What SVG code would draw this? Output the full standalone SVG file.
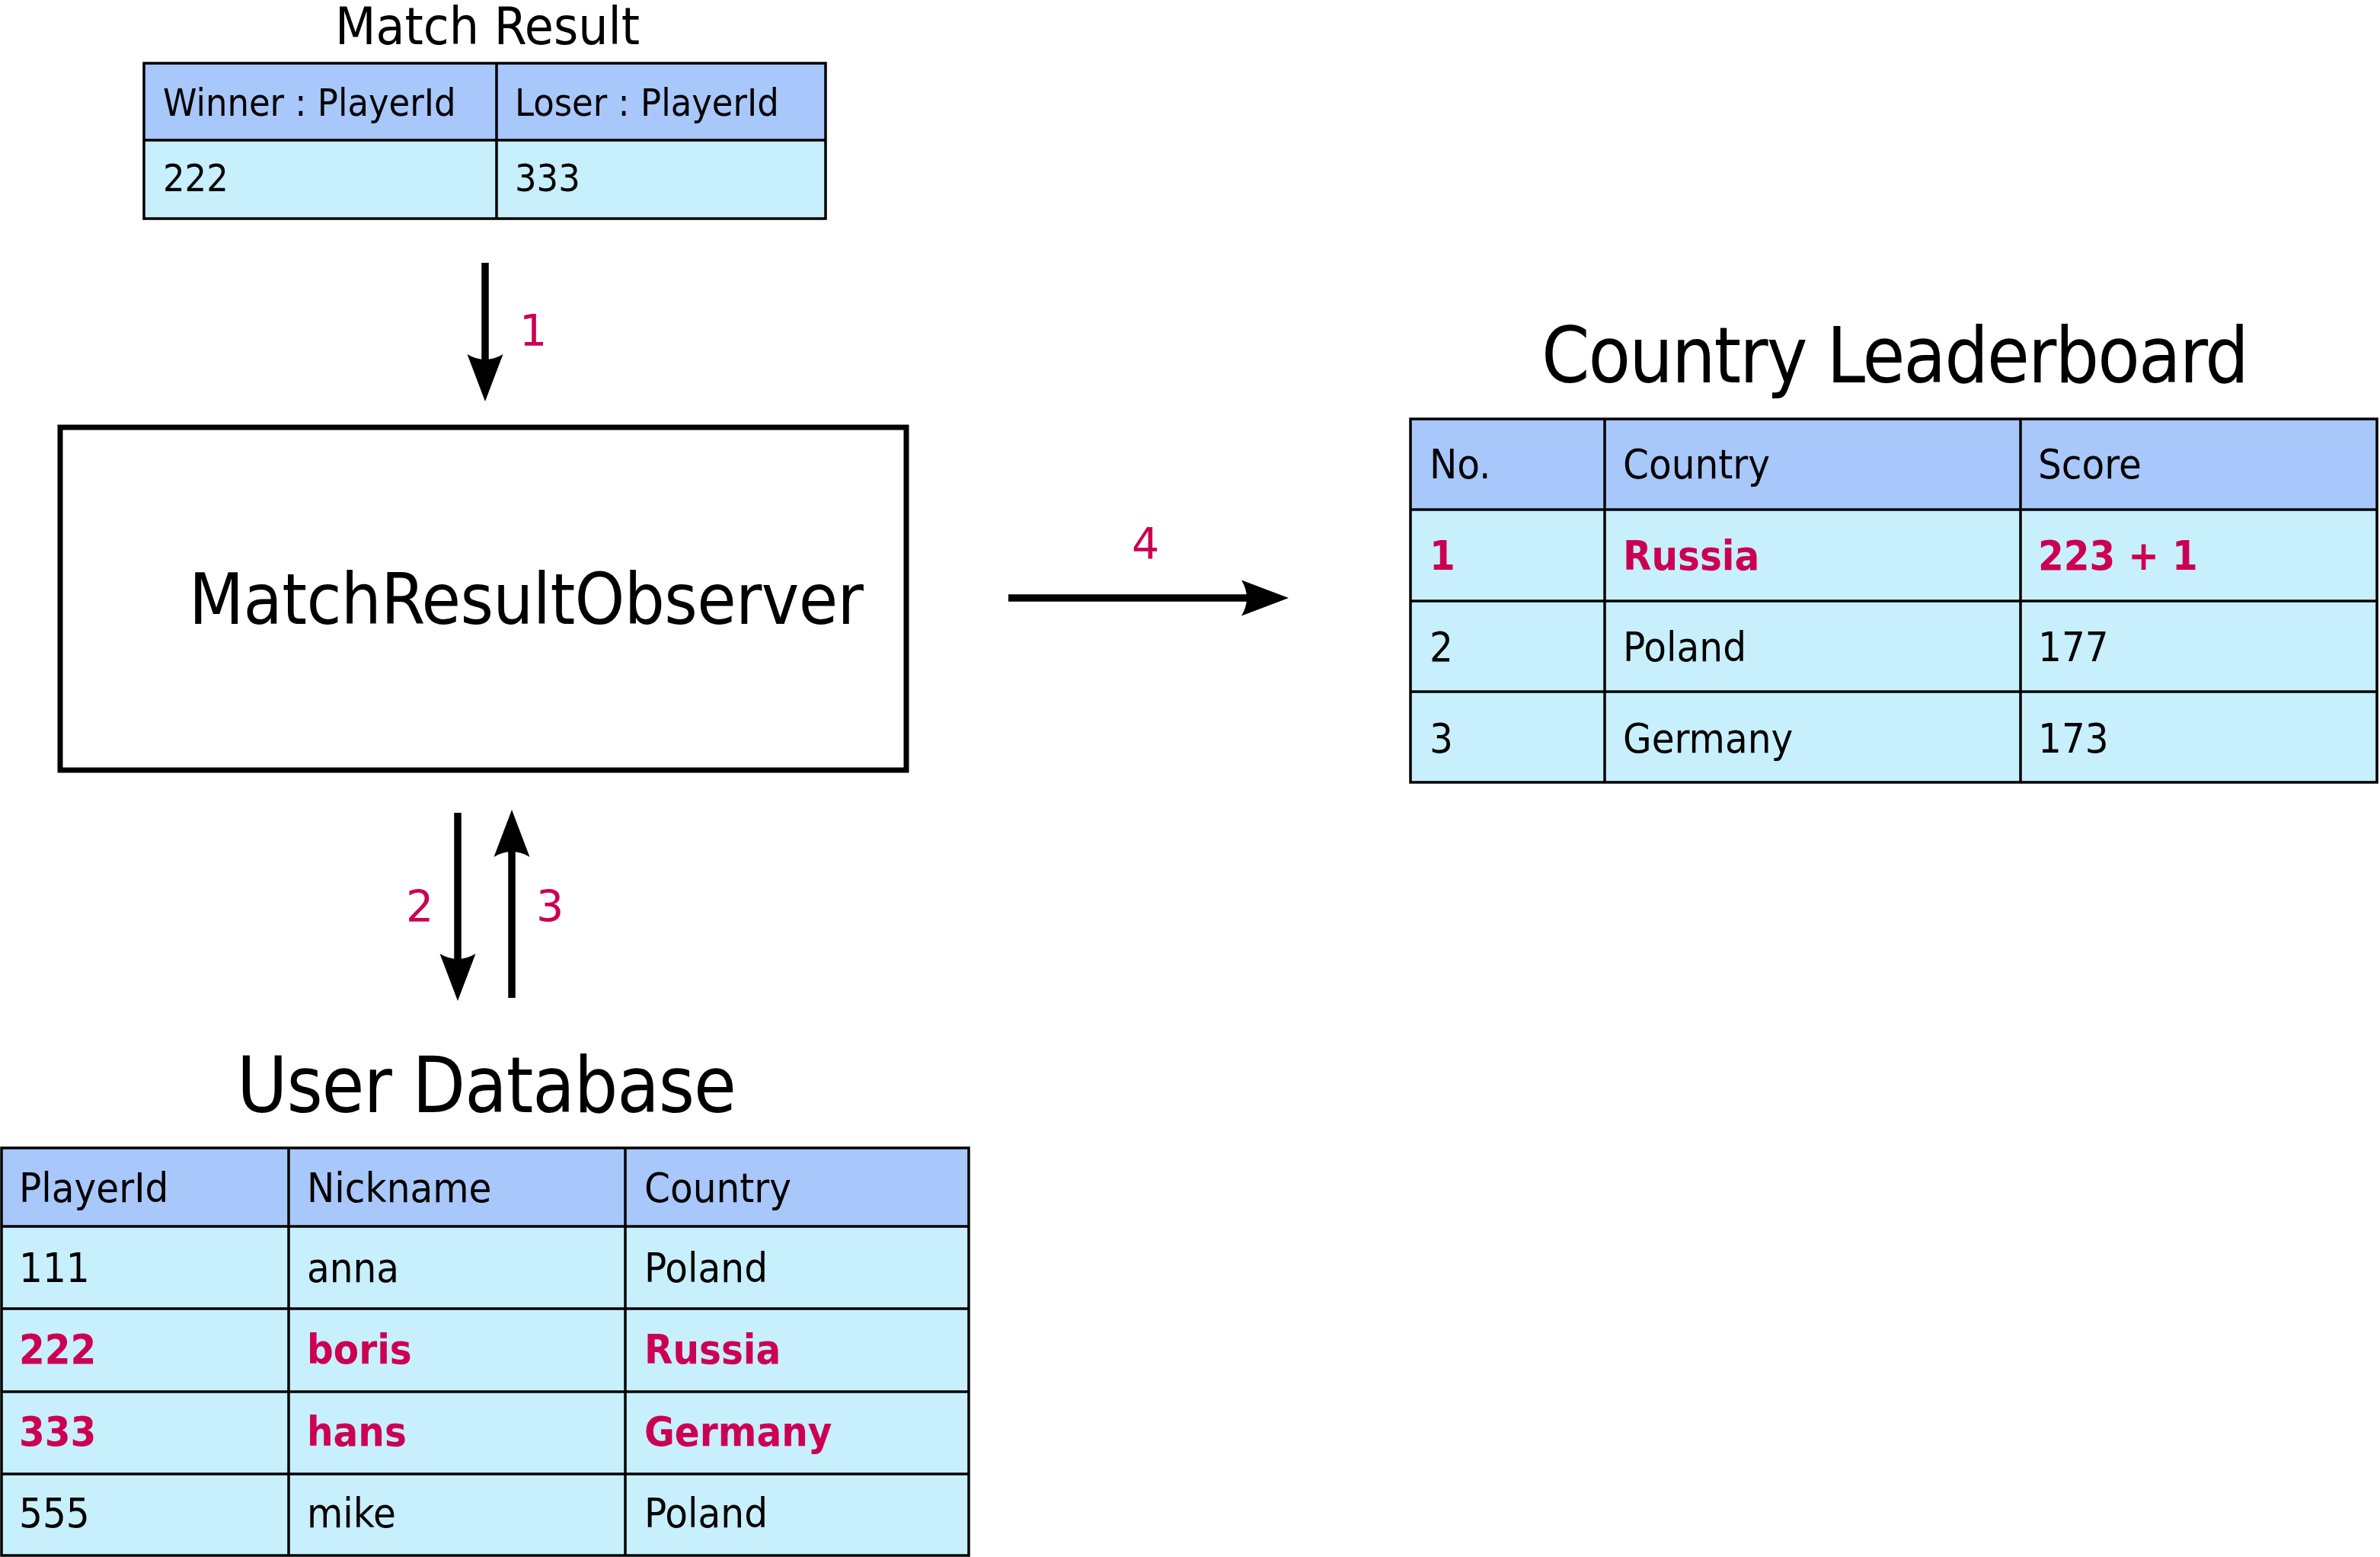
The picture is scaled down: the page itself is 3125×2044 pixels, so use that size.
<svg xmlns="http://www.w3.org/2000/svg" width="3125" height="2044" viewBox="0 0 3125 2044">
<style>
.hd{fill:#a8c7fa}
.bd{fill:#c8effc}
.grid{stroke:#000;stroke-width:3.5;fill:none}
.t{font-family:"DejaVu Sans Condensed","DejaVu Sans",sans-serif;font-stretch:condensed;fill:#000}
.c{font-size:54px}
.m{font-size:50px}
.r{fill:#cc0052;font-weight:bold}
.title{font-size:101px}
.lbl{font-family:"DejaVu Sans",sans-serif;font-size:57px;fill:#cc0052}
.arr{stroke:#000;stroke-width:9.5;fill:none;marker-end:url(#ah)}
</style>
<defs>
<marker id="ah" markerUnits="userSpaceOnUse" viewBox="0 -24 63 48" markerWidth="63" markerHeight="48" refX="7" refY="0" orient="auto">
<path d="M0,-23.5 L62,0 L0,23.5 Q14,0 0,-23.5 Z" fill="#000"/>
</marker>
</defs>
<rect width="3125" height="2044" fill="#fff"/>

<g id="match-result">
<text class="t" x="640" y="58" font-size="67" text-anchor="middle" textLength="400" lengthAdjust="spacingAndGlyphs">Match Result</text>
<rect class="hd" x="189" y="83" width="895" height="101"/>
<rect class="bd" x="189" y="184" width="895" height="103"/>
<rect class="grid" x="189" y="83" width="895" height="204"/>
<line class="grid" x1="189" y1="184" x2="1084" y2="184"/>
<line class="grid" x1="652" y1="83" x2="652" y2="287"/>
<text class="t m" x="214" y="152">Winner : PlayerId</text>
<text class="t m" x="676" y="152">Loser : PlayerId</text>
<text class="t m" x="214" y="251">222</text>
<text class="t m" x="676" y="251">333</text>
</g>

<g id="observer">
<rect x="79" y="561" width="1111" height="450" fill="#fff" stroke="#000" stroke-width="7"/>
<text class="t" x="248" y="819" font-size="93" textLength="886" lengthAdjust="spacing">MatchResultObserver</text>
</g>

<g id="country-leaderboard">
<text class="t title" x="2024" y="502" textLength="929" lengthAdjust="spacing">Country Leaderboard</text>
<rect class="hd" x="1852" y="550" width="1269" height="119"/>
<rect class="bd" x="1852" y="669" width="1269" height="358"/>
<rect class="grid" x="1852" y="550" width="1269" height="477"/>
<line class="grid" x1="1852" y1="669" x2="3121" y2="669"/>
<line class="grid" x1="1852" y1="789" x2="3121" y2="789"/>
<line class="grid" x1="1852" y1="908" x2="3121" y2="908"/>
<line class="grid" x1="2107" y1="550" x2="2107" y2="1027"/>
<line class="grid" x1="2653" y1="550" x2="2653" y2="1027"/>
<text class="t c" x="1877" y="628">No.</text>
<text class="t c" x="2131" y="628">Country</text>
<text class="t c" x="2676" y="628">Score</text>
<text class="t c r" x="1877" y="748">1</text>
<text class="t c r" x="2131" y="748">Russia</text>
<text class="t c r" x="2676" y="748">223 + 1</text>
<text class="t c" x="1877" y="868">2</text>
<text class="t c" x="2131" y="868">Poland</text>
<text class="t c" x="2676" y="868">177</text>
<text class="t c" x="1877" y="988">3</text>
<text class="t c" x="2131" y="988">Germany</text>
<text class="t c" x="2676" y="988">173</text>
</g>

<g id="user-database">
<text class="t title" x="311" y="1460" textLength="656" lengthAdjust="spacing">User Database</text>
<rect class="hd" x="2" y="1507" width="1270" height="103"/>
<rect class="bd" x="2" y="1610" width="1270" height="432"/>
<rect class="grid" x="2" y="1507" width="1270" height="535"/>
<line class="grid" x1="2" y1="1610" x2="1272" y2="1610"/>
<line class="grid" x1="2" y1="1718" x2="1272" y2="1718"/>
<line class="grid" x1="2" y1="1827" x2="1272" y2="1827"/>
<line class="grid" x1="2" y1="1935" x2="1272" y2="1935"/>
<line class="grid" x1="379" y1="1507" x2="379" y2="2042"/>
<line class="grid" x1="821" y1="1507" x2="821" y2="2042"/>
<text class="t c" x="25" y="1578">PlayerId</text>
<text class="t c" x="403" y="1578">Nickname</text>
<text class="t c" x="846" y="1578">Country</text>
<text class="t c" x="25" y="1683">111</text>
<text class="t c" x="403" y="1683">anna</text>
<text class="t c" x="846" y="1683">Poland</text>
<text class="t c r" x="25" y="1790">222</text>
<text class="t c r" x="403" y="1790">boris</text>
<text class="t c r" x="846" y="1790">Russia</text>
<text class="t c r" x="25" y="1898">333</text>
<text class="t c r" x="403" y="1898">hans</text>
<text class="t c r" x="846" y="1898">Germany</text>
<text class="t c" x="25" y="2005">555</text>
<text class="t c" x="403" y="2005">mike</text>
<text class="t c" x="846" y="2005">Poland</text>
</g>

<g id="connectors">
<line class="arr" x1="637" y1="345" x2="637" y2="472"/>
<line class="arr" x1="1324" y1="785" x2="1637" y2="785"/>
<line class="arr" x1="601" y1="1067" x2="601" y2="1259"/>
<line class="arr" x1="672" y1="1310" x2="672" y2="1118"/>
<text class="lbl" x="682" y="454">1</text>
<text class="lbl" x="1486" y="734">4</text>
<text class="lbl" x="533" y="1210">2</text>
<text class="lbl" x="704" y="1210">3</text>
</g>
</svg>
